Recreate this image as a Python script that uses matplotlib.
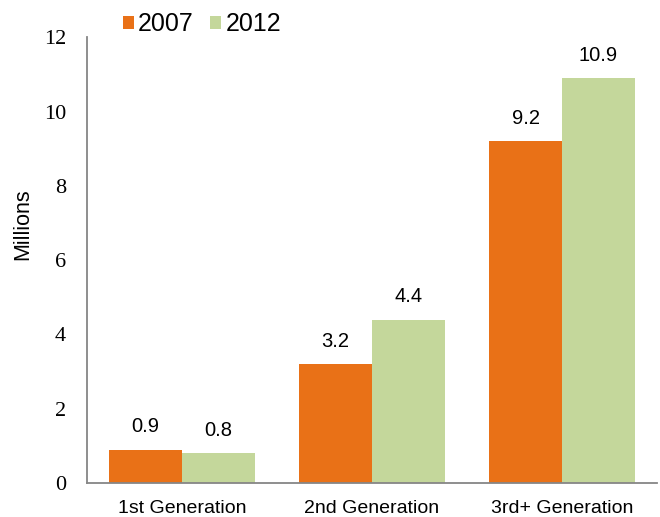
import matplotlib.pyplot as plt
import numpy as np

categories = ['1st Generation', '2nd Generation', '3rd+ Generation']
years = ['2007', '2012']
values_2007 = [0.9, 3.2, 9.2]
values_2012 = [0.8, 4.4, 10.9]
colors = ['#E97117', '#C4D79B']

fig = plt.figure(figsize=(6.6, 5.17), dpi=100)
ax = fig.add_axes([0.1318, 0.0658, 0.8637, 0.8622])

x = np.arange(len(categories))
w = 0.384
b1 = ax.bar(x - w/2, values_2007, w, color=colors[0], label=years[0])
b2 = ax.bar(x + w/2, values_2012, w, color=colors[1], label=years[1])

for bars, vals in ((b1, values_2007), (b2, values_2012)):
    for r, v in zip(bars, vals):
        ax.annotate(str(v), (r.get_x() + r.get_width()/2, v), xytext=(0, 16.5),
                    textcoords='offset points', ha='center', va='center',
                    fontsize=14.5, family='Liberation Sans')

ax.set_xlim(-0.5, 2.5)
ax.set_ylim(0, 12)
ax.set_yticks(range(0, 13, 2))
ax.set_xticks(x)
ax.set_xticklabels(categories, family='Liberation Sans', fontsize=14)
for lab in ax.get_yticklabels():
    lab.set_family('Liberation Serif')
    lab.set_fontsize(16)
ax.tick_params(axis='both', length=0)
ax.tick_params(axis='y', pad=15)
ax.tick_params(axis='x', pad=12)
ax.set_ylabel('Millions', family='Liberation Sans', fontsize=15.5)
ax.yaxis.set_label_coords(-0.095, 0.58)

for s in ('top', 'right'):
    ax.spines[s].set_visible(False)
for s in ('left', 'bottom'):
    ax.spines[s].set_color('#868686')
    ax.spines[s].set_linewidth(1.3)

fig.legend(loc='upper left', bbox_to_anchor=(0.152, 1.02), ncol=2, frameon=False,
           prop={'family': 'Liberation Sans', 'size': 18},
           handlelength=0.45, handleheight=0.45, handletextpad=0.16, columnspacing=0.65)

fig.savefig('out.png', dpi=100)
